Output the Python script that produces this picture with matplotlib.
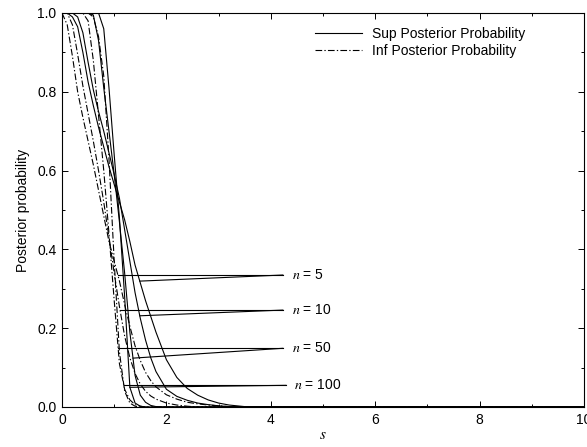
import matplotlib
matplotlib.use("Agg")
import matplotlib.pyplot as plt
import numpy as np
from matplotlib.ticker import MultipleLocator

plt.rcParams["font.family"] = ["Liberation Sans", "DejaVu Sans"]
plt.rcParams["mathtext.fontset"] = "stix"

# s grid shared by every curve
s = [0, 0.1, 0.2, 0.3, 0.4, 0.5, 0.6, 0.7, 0.8, 0.9, 1.0, 1.1, 1.2, 1.3, 1.4,
     1.5, 1.6, 1.7, 1.8, 2.0, 2.2, 2.4, 2.6, 2.8, 3.0, 3.2, 3.5, 4.0, 10.0]

# sup posterior probability
sup_5 = [1.0, 1.0, 0.99, 0.965, 0.90, 0.825, 0.765, 0.71, 0.66, 0.61, 0.565, 0.52,
         0.475, 0.42, 0.36, 0.315, 0.27, 0.23, 0.19, 0.12, 0.075, 0.047, 0.03,
         0.018, 0.01, 0.005, 0.001, 0.0, 0.0]
sup_10 = [1.0, 1.0, 1.0, 0.99, 0.95, 0.875, 0.805, 0.75, 0.70, 0.645, 0.59, 0.53,
          0.45, 0.37, 0.29, 0.225, 0.17, 0.125, 0.09, 0.045, 0.027, 0.017, 0.01,
          0.006, 0.003, 0.001, 0.0, 0.0, 0.0]
sup_50 = [1.0, 1.0, 1.0, 1.0, 1.0, 1.0, 0.995, 0.93, 0.81, 0.70, 0.59, 0.47,
          0.34, 0.19, 0.08, 0.03, 0.012, 0.004, 0.001, 0.0, 0.0, 0.0, 0.0,
          0.0, 0.0, 0.0, 0.0, 0.0, 0.0]
sup_100 = [1.0, 1.0, 1.0, 1.0, 1.0, 1.0, 1.0, 1.0, 0.96, 0.81, 0.64, 0.48,
           0.28, 0.05, 0.01, 0.002, 0.0, 0.0, 0.0, 0.0, 0.0, 0.0, 0.0,
           0.0, 0.0, 0.0, 0.0, 0.0, 0.0]

# inf posterior probability
inf_5 = [1.0, 0.97, 0.89, 0.80, 0.735, 0.675, 0.615, 0.55, 0.485, 0.42, 0.37, 0.32,
         0.26, 0.205, 0.155, 0.118, 0.088, 0.067, 0.051, 0.031, 0.02, 0.012, 0.008,
         0.005, 0.003, 0.001, 0.0, 0.0, 0.0]
inf_10 = [1.0, 1.0, 0.97, 0.895, 0.815, 0.745, 0.675, 0.60, 0.52, 0.43, 0.34, 0.255,
          0.18, 0.125, 0.085, 0.058, 0.04, 0.028, 0.02, 0.01, 0.005, 0.002, 0.0,
          0.0, 0.0, 0.0, 0.0, 0.0, 0.0]
inf_50 = [1.0, 1.0, 1.0, 1.0, 1.0, 0.98, 0.88, 0.74, 0.60, 0.44, 0.27, 0.11,
          0.045, 0.018, 0.006, 0.002, 0.0, 0.0, 0.0, 0.0, 0.0, 0.0, 0.0,
          0.0, 0.0, 0.0, 0.0, 0.0, 0.0]
inf_100 = [1.0, 1.0, 1.0, 1.0, 1.0, 1.0, 0.99, 0.94, 0.84, 0.63, 0.37, 0.14,
           0.04, 0.01, 0.002, 0.0, 0.0, 0.0, 0.0, 0.0, 0.0, 0.0, 0.0,
           0.0, 0.0, 0.0, 0.0, 0.0, 0.0]

n_labels = ["5", "10", "50", "100"]
label_y = [0.335, 0.246, 0.149, 0.055]
sup_target_s = [1.49, 1.49, 1.36, 1.30]
join_s = [4.23, 4.23, 4.23, 4.29]
text_s = [4.41, 4.41, 4.40, 4.45]

sups = [sup_5, sup_10, sup_50, sup_100]
infs = [inf_5, inf_10, inf_50, inf_100]

fig = plt.figure(figsize=(5.87, 4.47), dpi=100)
ax = fig.add_axes([62 / 587, 1 - 407 / 447, 522 / 587, 394 / 447])

dashdot = (0, (6, 2, 1.2, 2))
for i in range(4):
    ax.plot(s, sups[i], color="black", linewidth=0.8,
            label="Sup Posterior Probability" if i == 0 else None)
    ax.plot(s, infs[i], color="black", linewidth=0.8, linestyle=dashdot,
            label="Inf Posterior Probability" if i == 0 else None)

s_arr = np.array(s)
for i in range(4):
    inf_arr = np.array(infs[i])
    s_inf = np.interp(label_y[i], inf_arr[::-1], s_arr[::-1])
    y_sup = np.interp(sup_target_s[i], s_arr, np.array(sups[i]))
    ax.plot([s_inf, join_s[i]], [label_y[i], label_y[i]], color="black", linewidth=0.8)
    ax.plot([sup_target_s[i], join_s[i]], [y_sup, label_y[i]], color="black", linewidth=0.8)
    ax.text(text_s[i], label_y[i], r"$n$ = " + n_labels[i], fontsize=10,
            ha="left", va="center")

ax.set_xlim(0, 10)
ax.set_ylim(0, 1)
ax.xaxis.set_major_locator(MultipleLocator(2))
ax.xaxis.set_minor_locator(MultipleLocator(1))
ax.yaxis.set_major_locator(MultipleLocator(0.2))
ax.yaxis.set_minor_locator(MultipleLocator(0.1))
ax.yaxis.set_major_formatter(matplotlib.ticker.FormatStrFormatter("%.1f"))
ax.tick_params(which="both", direction="in", top=True, right=True, labelsize=10, width=0.7)
ax.tick_params(which="major", length=4, pad=4)
ax.tick_params(which="minor", length=2.5)
for sp in ax.spines.values():
    sp.set_linewidth(0.8)

ax.set_xlabel(r"$s$", fontsize=11, labelpad=1)
ax.set_ylabel("Posterior probability", fontsize=10, labelpad=5)

ax.legend(loc="upper left", bbox_to_anchor=(0.485, 0.965), frameon=False,
          fontsize=10, handlelength=3.4, handletextpad=0.7, labelspacing=0.2,
          borderpad=0, borderaxespad=0)

fig.savefig("out.png", dpi=100)
